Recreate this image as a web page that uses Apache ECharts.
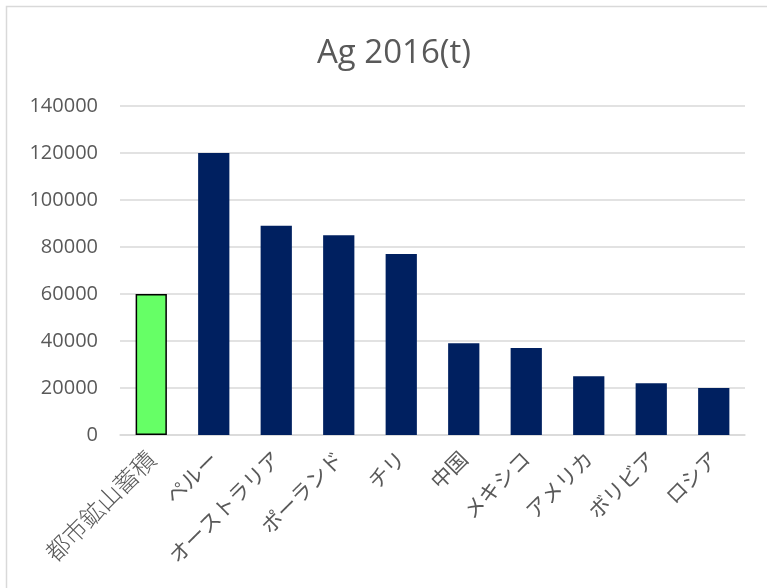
<!DOCTYPE html>
<html><head><meta charset="utf-8">
<script src="https://cdn.jsdelivr.net/npm/echarts@6/dist/echarts.min.js"></script>
<style>html,body{margin:0;padding:0;background:#fff}#c{width:767px;height:588px}</style>
</head><body><div id="c"></div>
<script>
const categories = ['都市鉱山蓄積','ペルー','オーストラリア','ポーランド','チリ','中国','メキシコ','アメリカ','ボリビア','ロシア'];
const values = [60000,120000,89000,85000,77000,39000,37000,25000,22000,20000];
const yTicks = [0,20000,40000,60000,80000,100000,120000,140000];

const chart = echarts.init(document.getElementById('c'));
const font = '"Noto Sans CJK JP","Noto Sans",sans-serif';
const latin = '"Open Sans","Noto Sans",sans-serif';
chart.setOption({
  animation:false,
  backgroundColor:'#fff',
  graphic:[{type:'rect',shape:{x:6.5,y:6.5,width:800,height:700},style:{fill:'none',stroke:'#d9d9d9',lineWidth:1.5},silent:true}],
  title:{text:'Ag 2016(t)',left:312,top:32,textStyle:{fontFamily:latin,fontSize:33,fontWeight:'normal',color:'#595959'}},
  grid:{left:120,right:22,top:106,bottom:153},
  xAxis:{type:'category',data:categories,
    axisLine:{lineStyle:{color:'#d9d9d9',width:1.5}},axisTick:{show:false},
    axisLabel:{rotate:45,interval:0,fontSize:21,color:'#595959',fontFamily:font,margin:20,
      formatter:(v,i)=>i===0?'{a|'+v+'}':v,
      rich:{a:{fontSize:24,fontWeight:300,color:'#595959',fontFamily:font}}}},
  yAxis:{type:'value',min:yTicks[0],max:yTicks[yTicks.length-1],interval:20000,
    axisLine:{show:false},axisTick:{show:false},
    splitLine:{lineStyle:{color:'#d9d9d9',width:1.5}},
    axisLabel:{fontSize:20,color:'#595959',fontFamily:latin,margin:22,formatter:v=>String(v)}},
  series:[{type:'bar',barWidth:'50%',
    data:values.map((v,i)=>i===0?{value:v,itemStyle:{color:'#66ff66',borderColor:'#000',borderWidth:1.5}}:{value:v,itemStyle:{color:'#002060'}})}]
});
</script></body></html>
